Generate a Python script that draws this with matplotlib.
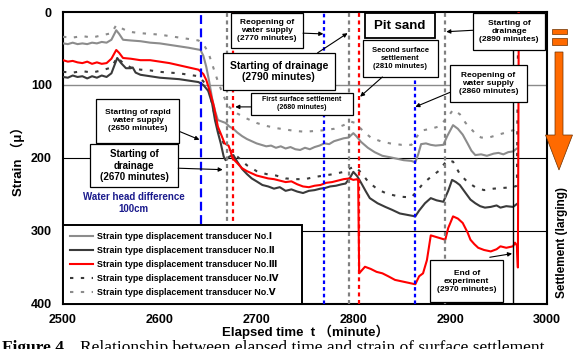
import numpy as np
import matplotlib.pyplot as plt
from matplotlib.patches import Rectangle, Polygon

plt.rcParams['font.family'] = ['Liberation Sans', 'DejaVu Sans', 'Noto Sans CJK JP']
plt.rcParams['font.weight'] = 'bold'
plt.rcParams['axes.labelweight'] = 'bold'

# ---- data (elapsed time in minutes, strain in micro) ----
t_I = [2500, 2505, 2510, 2515, 2520, 2525, 2530, 2535, 2540, 2545, 2550, 2555, 2558, 2562, 2570,
       2580, 2590, 2600, 2610, 2620, 2630, 2638, 2642, 2645, 2648, 2651, 2654, 2657, 2660, 2664,
       2668, 2672, 2676, 2680, 2685, 2690, 2695, 2700, 2705, 2710, 2715, 2720, 2725, 2730, 2735,
       2740, 2745, 2750, 2755, 2760, 2765, 2770, 2775, 2780, 2785, 2790, 2795, 2800, 2803, 2808,
       2815, 2822, 2830, 2838, 2845, 2852, 2860, 2864, 2867, 2870, 2875, 2880, 2885, 2893, 2897,
       2903, 2908, 2913, 2918, 2922, 2926, 2932, 2938, 2945, 2950, 2955, 2960, 2965, 2969]
s_I = [43, 44, 42, 44, 43, 44, 42, 43, 41, 42, 38, 25, 30, 38, 39,
       40, 42, 43, 45, 47, 49, 51, 52, 60, 75, 95, 118, 135, 148, 150,
       152, 157, 160, 165, 170, 174, 177, 180, 182, 184, 183, 186, 184, 187, 185,
       188, 189, 186, 188, 185, 183, 180, 181, 177, 175, 173, 172, 166, 170, 178,
       186, 192, 197, 199, 201, 203, 204, 206, 195, 181, 180, 182, 183, 182, 170,
       155, 160, 168, 180, 190, 196, 195, 197, 194, 193, 195, 192, 191, 187]

t_II = [2500, 2505, 2510, 2515, 2520, 2525, 2530, 2535, 2540, 2545, 2550, 2556, 2560, 2565, 2570,
        2572, 2575, 2580, 2590, 2600, 2610, 2620, 2630, 2640, 2645, 2650, 2654, 2657, 2660, 2663,
        2666, 2668, 2672, 2676, 2680, 2685, 2690, 2695, 2700, 2706, 2712, 2718, 2724, 2730, 2736,
        2742, 2748, 2754, 2760, 2766, 2771, 2776, 2782, 2788, 2792, 2797, 2800, 2804, 2808, 2813,
        2817, 2825, 2833, 2840, 2848, 2856, 2864, 2868, 2874, 2880, 2886, 2893, 2898, 2902, 2906,
        2910, 2916, 2921, 2926, 2931, 2936, 2942, 2948, 2952, 2958, 2965, 2969]
s_II = [89, 90, 87, 89, 88, 91, 88, 90, 87, 89, 84, 63, 70, 77, 77,
        76, 83, 86, 88, 90, 91, 92, 94, 96, 100, 108, 125, 148, 165, 180,
        198, 203, 198, 196, 205, 215, 222, 228, 232, 237, 239, 242, 240, 245, 243,
        246, 248, 245, 244, 242, 241, 239, 238, 236, 235, 226, 219, 225, 234, 246,
        255, 262, 267, 271, 276, 278, 280, 272, 262, 255, 258, 260, 245, 230, 233,
        237, 248, 257, 262, 266, 268, 267, 265, 268, 266, 267, 263]

t_III = [2500, 2505, 2510, 2515, 2520, 2525, 2530, 2535, 2540, 2545, 2550, 2555, 2558, 2562, 2570,
         2580, 2590, 2600, 2610, 2620, 2630, 2640, 2645, 2648, 2652, 2656, 2660, 2664, 2667, 2671,
         2673, 2675, 2680, 2685, 2690, 2695, 2700, 2706, 2712, 2718, 2724, 2730, 2736, 2742, 2748,
         2754, 2760, 2766, 2772, 2778, 2784, 2790, 2796, 2800, 2804, 2805, 2806, 2812, 2818, 2824,
         2830, 2836, 2843, 2850, 2857, 2864, 2868, 2872, 2876, 2880, 2885, 2890, 2895, 2898, 2903,
         2908, 2913, 2918, 2921, 2925, 2929, 2935, 2942, 2948, 2952, 2958, 2965, 2967, 2969, 2970,
         2971]
s_III = [66, 68, 67, 69, 70, 68, 71, 69, 71, 70, 64, 52, 56, 63, 64,
         66, 66, 68, 70, 73, 76, 79, 85, 93, 110, 130, 157, 170, 180, 183,
         190, 200, 207, 214, 218, 221, 224, 226, 228, 229, 231, 233, 232, 236, 239,
         240, 238, 237, 234, 233, 231, 229, 228, 230, 229, 232, 358, 349, 352, 356,
         358, 362, 367, 369, 371, 373, 362, 358, 340, 306, 308, 310, 312, 296, 280,
         283, 289, 302, 312, 318, 323, 326, 328, 325, 321, 323, 321, 316, 320, 350,
         -20]

t_IV = [2500, 2510, 2520, 2530, 2540, 2550, 2556, 2562, 2570, 2580, 2590, 2600, 2610, 2620, 2630,
        2640, 2645, 2650, 2654, 2658, 2662, 2666, 2670, 2675, 2680, 2685, 2690, 2695, 2700, 2710,
        2720, 2730, 2740, 2750, 2760, 2770, 2780, 2790, 2797, 2802, 2808, 2815, 2825, 2835, 2848,
        2860, 2866, 2872, 2880, 2888, 2897, 2903, 2910, 2918, 2926, 2935, 2945, 2955, 2965, 2969,
        2970.5]
s_IV = [82, 83, 81, 83, 80, 76, 62, 70, 76, 79, 80, 82, 83, 84, 86,
        88, 95, 105, 125, 150, 168, 180, 186, 192, 198, 204, 210, 214, 218, 222,
        224, 228, 229, 229, 226, 224, 222, 219, 214, 212, 220, 232, 243, 249, 253,
        254, 245, 235, 226, 218, 203, 205, 222, 233, 240, 244, 242, 241, 240, 238,
        -20]

t_V = [2500, 2510, 2520, 2530, 2540, 2550, 2555, 2560, 2568, 2580, 2590, 2600, 2610, 2620, 2630,
       2640, 2645, 2650, 2655, 2660, 2665, 2670, 2675, 2680, 2690, 2700, 2710, 2720, 2730, 2740,
       2750, 2760, 2770, 2780, 2790, 2797, 2802, 2810, 2818, 2828, 2838, 2850, 2860, 2866, 2872,
       2880, 2888, 2897, 2903, 2910, 2916, 2925, 2932, 2940, 2950, 2958, 2965, 2969]
s_V = [34, 35, 33, 35, 32, 29, 18, 22, 27, 29, 30, 31, 33, 35, 37,
       39, 44, 55, 75, 95, 112, 128, 134, 139, 146, 152, 156, 159, 161, 163,
       164, 163, 162, 160, 155, 150, 152, 163, 172, 177, 180, 182, 182, 170, 162,
       160, 157, 145, 134, 140, 152, 165, 172, 172, 168, 165, 162, 160]

labels = ["Strain type displacement transducer No.\u2160",
          "Strain type displacement transducer No.\u2161",
          "Strain type displacement transducer No.\u2162",
          "Strain type displacement transducer No.\u2163",
          "Strain type displacement transducer No.\u2164"]

blue_t = [2643, 2770, 2864]
gray_t = [2669, 2796, 2895]
red_t = [2676, 2806]
end_t = 2965
grid_s = [100, 200, 300]
x_ticks = [2500, 2600, 2700, 2800, 2900, 3000]
y_ticks = [0, 100, 200, 300, 400]

fig = plt.figure(figsize=(5.74, 3.49), dpi=100)
ax = fig.add_axes([0.1098, 0.129, 0.843, 0.8366])
ax.set_xlim(2500, 3000)
ax.set_ylim(400, 0)
ax.set_xticks(x_ticks)
ax.set_yticks(y_ticks)
ax.tick_params(length=0, labelsize=9)
ax.tick_params(axis='x', pad=7)
ax.tick_params(axis='y', pad=8)
for sp in ax.spines.values():
    sp.set_linewidth(1.5)

ax.axhline(grid_s[0], color='#8a8a8a', lw=1.0, zorder=1)
for g in grid_s[1:]:
    ax.axhline(g, color='black', lw=0.8, zorder=1)

# series
dash = (0, (1.6, 3.6))
ax.plot(t_V, s_V, color='#8c8c8c', lw=1.5, ls=dash, zorder=3, label=labels[4])
ax.plot(t_IV, s_IV, color='#3a3a3a', lw=1.5, ls=dash, zorder=3, label=labels[3])
ax.plot(t_I, s_I, color='#8c8c8c', lw=1.5, zorder=4, label=labels[0])
ax.plot(t_II, s_II, color='#3a3a3a', lw=1.5, zorder=4, label=labels[1])
ax.plot(t_III, s_III, color='#ff0000', lw=1.5, zorder=5, label=labels[2])

# event lines
for i, t in enumerate(blue_t):
    ax.axvline(t, color='#0000ff', lw=1.6, ls=(0, (4, 2)) if i == 0 else (0, (1.6, 1.4)), zorder=6)
for t in gray_t:
    ax.axvline(t, color='#808080', lw=1.6, ls=(0, (1.8, 1.6)), zorder=6)
for t in red_t:
    ax.axvline(t, color='#ff0000', lw=1.6, ls=(0, (1.8, 1.6)), zorder=6)
ax.axvline(end_t, color='black', lw=1.0, zorder=6)

# legend
h, l = ax.get_legend_handles_labels()
order = [2, 3, 4, 1, 0]
leg = ax.legend([h[i] for i in order], [l[i] for i in order], loc='lower left',
                bbox_to_anchor=(0, 0, 0.494, 0.28), mode='expand', borderaxespad=0,
                fontsize=6.4, handlelength=2.6, handletextpad=0.4, labelspacing=0.55,
                borderpad=0.8, fancybox=False, framealpha=1, edgecolor='black')
leg.get_frame().set_linewidth(1.4)
leg.set_zorder(20)


def note(text, box, start, tip, size=6, lw=0.9):
    t0, s0, t1, s1 = box
    ax.add_patch(Rectangle((t0, s0), t1 - t0, s1 - s0, fc='white', ec='black', lw=lw, zorder=10))
    ax.text((t0 + t1) / 2, (s0 + s1) / 2, text, ha='center', va='center', fontsize=size,
            linespacing=1.2, zorder=11)
    if tip is not None:
        ax.annotate('', xy=tip, xytext=start, zorder=11,
                    arrowprops=dict(arrowstyle='-|>', color='black', lw=0.8,
                                    mutation_scale=6, shrinkA=0, shrinkB=0))


note("Starting of rapid\nwater supply\n(2650 minutes)", (2534, 119, 2620, 179.5), (2621, 164), (2641, 175), 6)
note("Starting of\ndrainage\n(2670 minutes)", (2528, 181, 2619, 240), (2619, 214), (2665, 216), 7)
note("Reopening of\nwater supply\n(2770 minutes)", (2674, 1.5, 2748, 49), (2748, 29), (2769, 30), 6)
note("Starting of drainage\n(2790 minutes)", (2665, 56, 2781, 107), (2763, 56), (2794, 29), 7.5)
note("First surface settlement\n(2680 minutes)", (2694, 111, 2800, 141), (2694, 130), (2678, 130), 5)
note("Second surface\nsettlement\n(2810 minutes)", (2810, 38, 2887, 89), (2830, 89), (2807, 116), 5.5)
note("Pit sand", (2812, 1.5, 2884, 36), None, None, 9.5, 1.3)
note("Reopening of\nwater supply\n(2860 minutes)", (2900, 73, 2979, 123), (2900, 110), (2864, 130), 6)
note("Starting of\ndrainage\n(2890 minutes)", (2924, 1.5, 2998, 52), (2924, 25), (2896, 27), 6)
note("End of\nexperiment\n(2970 minutes)", (2879, 340, 2955, 397.5), (2941, 336), (2964, 331), 6)

ax.text(2573, 262, "Water head difference\n100cm", ha='center', va='center', fontsize=7,
        color='#1a1a8c', linespacing=1.2, zorder=11)

ax.set_xlabel("Elapsed time  t \uff08minute\uff09", fontsize=9.5, labelpad=-1)
ax.set_ylabel("Strain \uff08\u03bc\uff09", fontsize=9.5, labelpad=4)

# settlement arrow on the right
side = fig.add_axes([543 / 574, 1 - 175 / 349, 31 / 574, 150 / 349])
side.set_xlim(543, 574)
side.set_ylim(175, 25)
side.axis('off')
orange = '#ff6a00'
side.add_patch(Rectangle((552, 29), 15, 4.5, fc=orange, ec='#6a3000', lw=0.5))
side.add_patch(Rectangle((552, 38), 15, 7, fc=orange, ec='#6a3000', lw=0.5))
side.add_patch(Polygon([(555, 52), (563, 52), (563, 135), (572.5, 135), (559, 170),
                        (545.5, 135), (555, 135)], closed=True, fc=orange, ec='#6a3000', lw=0.5))
fig.text(562 / 574, 1 - 242 / 349, "Settlement (larging)", rotation=90, ha='center',
         va='center', fontsize=8.5)

# caption (cut off at the bottom edge, as in the source page)
fig.text(2 / 574, 1 - 340 / 349, "Figure 4.", fontsize=12.5, va='top', family='Liberation Serif',
         weight='bold')
fig.text(80 / 574, 1 - 340 / 349, "Relationship between elapsed time and strain of surface settlement",
         fontsize=12.5, va='top', family='Liberation Serif', weight='normal')

fig.savefig("out.png", dpi=100)
